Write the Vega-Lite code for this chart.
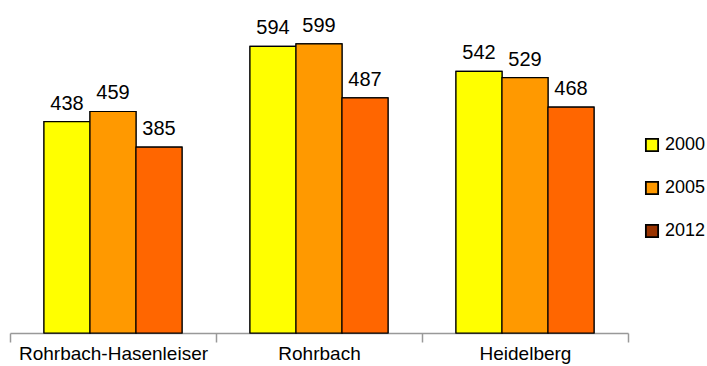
{
  "$schema": "https://vega.github.io/schema/vega-lite/v6.json",
  "width": 618,
  "height": 333,
  "autosize": "none",
  "padding": {"left": 10, "top": 0, "right": 79, "bottom": 33},
  "config": {
    "view": {"stroke": null},
    "font": "Liberation Sans"
  },
  "data": {
    "values": [
      {"region": "Rohrbach-Hasenleiser", "year": "2000", "value": 438},
      {"region": "Rohrbach-Hasenleiser", "year": "2005", "value": 459},
      {"region": "Rohrbach-Hasenleiser", "year": "2012", "value": 385},
      {"region": "Rohrbach", "year": "2000", "value": 594},
      {"region": "Rohrbach", "year": "2005", "value": 599},
      {"region": "Rohrbach", "year": "2012", "value": 487},
      {"region": "Heidelberg", "year": "2000", "value": 542},
      {"region": "Heidelberg", "year": "2005", "value": 529},
      {"region": "Heidelberg", "year": "2012", "value": 468}
    ]
  },
  "encoding": {
    "x": {
      "field": "region",
      "type": "nominal",
      "sort": null,
      "title": null,
      "scale": {"paddingInner": 0, "paddingOuter": 0},
      "axis": {
        "labelAngle": 0,
        "labelFontSize": 19,
        "labelLimit": 0,
        "labelColor": "#000",
        "labelPadding": 2,
        "domainColor": "#999",
        "domainWidth": 1.5,
        "tickColor": "#999",
        "tickWidth": 1.5,
        "tickSize": 9,
        "tickBand": "extent"
      }
    },
    "xOffset": {
      "field": "year",
      "type": "nominal",
      "scale": {"paddingInner": 0, "paddingOuter": 0.739}
    },
    "y": {
      "field": "value",
      "type": "quantitative",
      "scale": {"domain": [0, 690]},
      "axis": null
    }
  },
  "layer": [
    {
      "mark": {"type": "bar", "stroke": "#000", "strokeWidth": 1.2},
      "encoding": {
        "fill": {
          "field": "year",
          "type": "nominal",
          "scale": {"range": ["#ffff00", "#ff9900", "#993300"]},
          "legend": {
            "title": null,
            "orient": "none",
            "legendX": 633,
            "legendY": 136,
            "symbolType": "square",
            "symbolSize": 150,
            "symbolStrokeColor": "#000",
            "symbolStrokeWidth": 1.8,
            "labelFontSize": 18,
            "labelLimit": 0,
            "labelColor": "#000",
            "labelOffset": 4,
            "rowPadding": 23
          }
        }
      }
    },
    {
      "mark": {"type": "bar", "stroke": "#000", "strokeWidth": 1.2},
      "encoding": {
        "color": {
          "field": "year",
          "type": "nominal",
          "scale": {"range": ["#ffff00", "#ff9900", "#ff6600"]},
          "legend": null
        }
      }
    },
    {
      "mark": {"type": "text", "baseline": "bottom", "dy": -8, "fontSize": 20, "color": "#000"},
      "encoding": {
        "text": {"field": "value", "type": "quantitative"}
      }
    }
  ]
}
